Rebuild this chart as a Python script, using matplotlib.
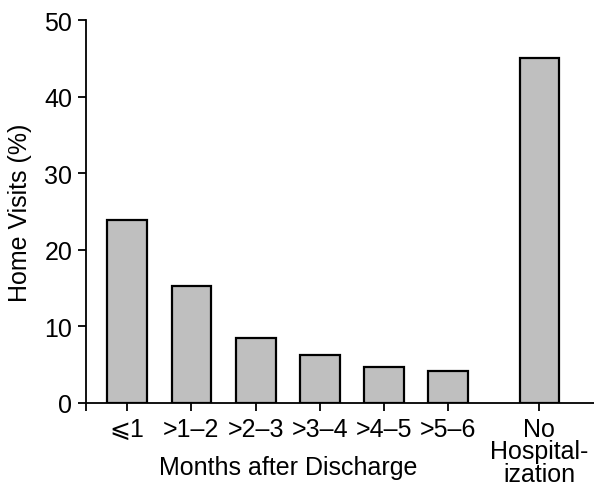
import matplotlib.pyplot as plt

plt.rcParams['font.family'] = ['Liberation Sans', 'DejaVu Sans']

# ================= DATA =================

categories = ["⩽1", ">1–2", ">2–3", ">3–4", ">4–5", ">5–6", "No\nHospital-\nization"]
positions = [0, 1, 2, 3, 4, 5, 6.42]
visits = [23.9, 15.3, 8.5, 6.2, 4.65, 4.2, 45.0]
y_ticks = [0, 10, 20, 30, 40, 50]

FS = 18

# ================= DRAW =================

fig = plt.figure(figsize=(5.94, 4.89), dpi=100)
ax = fig.add_axes([0.145, 0.174, 0.855, 0.783])

ax.bar(positions, visits, width=0.62, color="#bfbfbf", edgecolor="black", linewidth=1.6, zorder=3)

ax.set_xlim(-0.64, 7.27)
ax.set_ylim(0, 50)

ax.spines["top"].set_visible(False)
ax.spines["right"].set_visible(False)
ax.spines["left"].set_linewidth(1.3)
ax.spines["bottom"].set_linewidth(1.3)

ax.set_xticks([-0.64] + positions)
ax.set_xticklabels([""] + categories, fontsize=FS, linespacing=0.93)
ax.set_yticks(y_ticks)
ax.set_yticklabels([str(v) for v in y_ticks], fontsize=FS)
ax.tick_params(axis="both", direction="out", length=6, width=1.3)
ax.tick_params(axis="x", pad=4)
ax.tick_params(axis="y", pad=4)

ax.set_ylabel("Home Visits (%)", fontsize=FS, labelpad=9)
ax.text(2.5, -0.135, "Months after Discharge", transform=ax.get_xaxis_transform(),
        ha="center", va="top", fontsize=FS)

plt.savefig("out.png")
plt.close()
